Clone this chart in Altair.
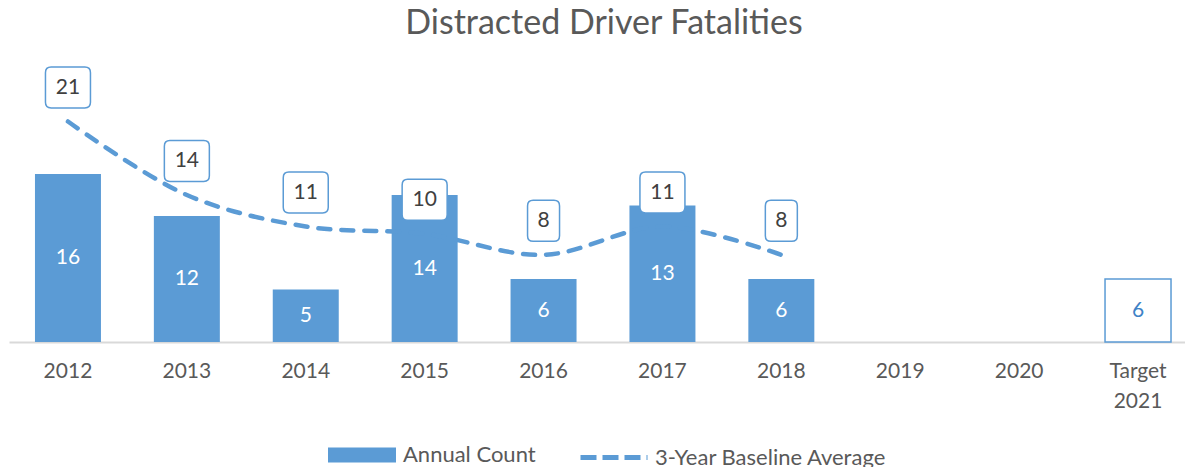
import altair as alt
import pandas as pd

# ---- data ----
years = ["2012", "2013", "2014", "2015", "2016", "2017", "2018"]
categories = years + ["2019", "2020", "Target 2021"]
annual_count = [16, 12, 5, 14, 6, 13, 6]
baseline_avg = [21, 14, 11, 10.3, 8.3, 11, 8.3]
target_category = ["Target 2021"]
target_value = [6]

BLUE = "#5B9BD5"
GRAY = "#595959"
DARK = "#404040"
FONT = "Lato"

counts_df = pd.DataFrame({"year": years, "count": annual_count,
                          "series_bar": ["Annual Count"] * len(years)})
avg_df = pd.DataFrame({"year": years, "avg": baseline_avg,
                       "series_line": ["3-Year Baseline Average"] * len(years)})
target_df = pd.DataFrame({"year": target_category, "count": target_value})

x_scale = alt.Scale(domain=categories, paddingInner=0.445, paddingOuter=0.168, align=0.65)
x_axis = alt.Axis(title=None, labelExpr="split(datum.label, ' ')", labelAngle=0,
                  domainColor="#D9D9D9", domainWidth=2, ticks=False, grid=False,
                  labelFont=FONT, labelFontSize=21, labelColor=GRAY,
                  labelPadding=18, labelLineHeight=30)
X = alt.X("year:N", scale=x_scale, axis=x_axis)
y_scale = alt.Scale(domain=[0, 25])

bars = alt.Chart(counts_df).mark_bar().encode(
    x=X,
    y=alt.Y("count:Q", scale=y_scale, axis=None),
    fill=alt.Fill("series_bar:N",
                  scale=alt.Scale(domain=["Annual Count"], range=[BLUE]),
                  legend=alt.Legend(title=None, orient="none", legendX=319, legendY=341.5,
                                    symbolType="M-1,-0.22L1,-0.22L1,0.22L-1,0.22Z",
                                    symbolSize=4624, symbolStrokeWidth=0,
                                    labelFont=FONT, labelFontSize=22, labelColor=GRAY,
                                    labelOffset=7, labelLimit=400, padding=0)),
)

bar_labels = alt.Chart(counts_df).transform_calculate(mid="datum.count / 2").mark_text(
    color="white", font=FONT, fontSize=21, baseline="middle"
).encode(x=X, y=alt.Y("mid:Q", scale=y_scale, axis=None), text="count:Q")

target_bar = alt.Chart(target_df).mark_bar(fill="white", stroke=BLUE, strokeWidth=1.5).encode(
    x=X, y=alt.Y("count:Q", scale=y_scale, axis=None)
)
target_label = alt.Chart(target_df).transform_calculate(mid="datum.count / 2").mark_text(
    color="#3E82C6", font=FONT, fontSize=21, baseline="middle"
).encode(x=X, y=alt.Y("mid:Q", scale=y_scale, axis=None), text="count:Q")

line = alt.Chart(avg_df).mark_line(
    interpolate="catmull-rom", strokeWidth=4.5, strokeDash=[12, 11], strokeCap="round"
).encode(
    x=X,
    y=alt.Y("avg:Q", scale=y_scale, axis=None),
    stroke=alt.Stroke("series_line:N",
                      scale=alt.Scale(domain=["3-Year Baseline Average"], range=[BLUE]),
                      legend=alt.Legend(title=None, orient="none", legendX=569, legendY=342,
                                        symbolType="stroke", symbolSize=4489,
                                        symbolStrokeWidth=5, symbolDash=[16, 6],
                                        labelFont=FONT, labelFontSize=22, labelColor=GRAY,
                                        labelOffset=5, labelLimit=400, padding=0)),
)

box2 = ("M-0.75,-0.911L0.75,-0.911Q1,-0.911 1,-0.661L1,0.661Q1,0.911 0.75,0.911"
        "L-0.75,0.911Q-1,0.911 -1,0.661L-1,-0.661Q-1,-0.911 -0.75,-0.911Z")
box1 = ("M-0.461,-0.911L0.461,-0.911Q0.711,-0.911 0.711,-0.661L0.711,0.661Q0.711,0.911 0.461,0.911"
        "L-0.461,0.911Q-0.711,0.911 -0.711,0.661L-0.711,-0.661Q-0.711,-0.911 -0.461,-0.911Z")

avg_lab = alt.Chart(avg_df).transform_calculate(
    lbl="format(datum.avg, '.0f')",
    nd="'' + length(format(datum.avg, '.0f'))",
)
boxes = avg_lab.mark_point(filled=True, fill="white", stroke=BLUE, strokeWidth=1.5,
                           size=2025, opacity=1, yOffset=-34).encode(
    x=X,
    y=alt.Y("avg:Q", scale=y_scale, axis=None),
    shape=alt.Shape("nd:N", scale=alt.Scale(domain=["1", "2"], range=[box1, box2]), legend=None),
)
box_text = avg_lab.mark_text(font=FONT, fontSize=21, color=DARK, baseline="middle",
                             yOffset=-34).encode(
    x=X, y=alt.Y("avg:Q", scale=y_scale, axis=None), text="lbl:N"
)

chart = alt.layer(bars, bar_labels, target_bar, target_label, line, boxes, box_text).resolve_legend(
    fill="independent", stroke="independent"
).properties(
    width=1176, height=262.5,
    title=alt.TitleParams("Distracted Driver Fatalities", font=FONT, fontSize=34, color=GRAY,
                          fontWeight="normal", anchor="middle", baseline="alphabetic",
                          offset=5.5, dy=9, dx=7),
    padding={"left": 1, "top": 71.5, "right": 0, "bottom": 125},
    autosize=alt.AutoSizeParams(type="none"),
).configure_view(stroke=None)

chart.save("out.html", embed_options={"renderer": "svg", "actions": False})
